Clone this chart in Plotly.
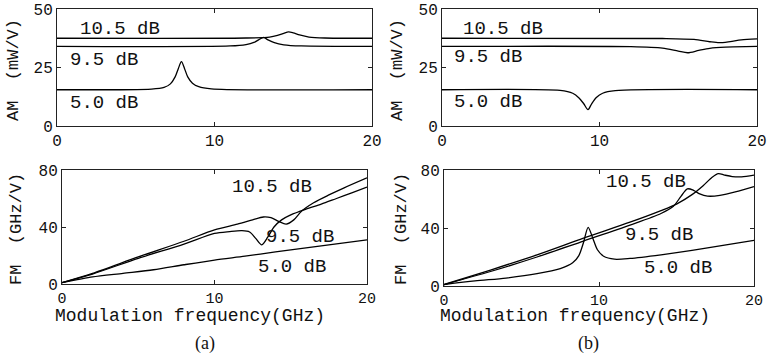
import plotly.graph_objects as go

# ---------------- data ----------------
# (a) AM response (mW/V)
a_am_105_x = [0, 12, 13.5, 14.0, 14.4, 14.7, 15.0, 15.4, 16.0, 17, 20]
a_am_105_y = [37.5, 37.6, 38.0, 38.7, 39.6, 40.2, 39.8, 38.9, 38.0, 37.6, 37.5]
a_am_95_x = [0, 11, 12.0, 12.5, 12.8, 13.1, 13.4, 13.8, 14.4, 15.5, 20]
a_am_95_y = [34.0, 34.2, 34.8, 35.7, 36.8, 37.9, 36.8, 35.6, 34.7, 34.2, 34.0]
a_am_50_x = [0, 6, 6.8, 7.2, 7.5, 7.7, 7.9, 8.1, 8.3, 8.6, 9.0, 9.8, 20]
a_am_50_y = [15.5, 15.8, 16.5, 18.0, 21.0, 24.5, 27.5, 24.5, 21.0, 18.3, 16.8, 15.9, 15.5]

# (b) AM response (mW/V)
b_am_105_x = [0, 14, 16, 17, 17.6, 18.3, 19, 20]
b_am_105_y = [37.5, 37.4, 37.0, 36.0, 35.6, 36.1, 36.8, 37.2]
b_am_95_x = [0, 12, 14, 15, 15.6, 16.3, 17, 18, 20]
b_am_95_y = [34.0, 33.9, 33.3, 32.0, 31.3, 32.3, 33.2, 33.7, 34.0]
b_am_50_x = [0, 7.5, 8.3, 8.7, 9.0, 9.27, 9.5, 9.8, 10.2, 11, 20]
b_am_50_y = [15.5, 15.2, 14.0, 12.0, 9.5, 7.0, 9.5, 12.2, 14.0, 15.1, 15.5]

# (a) FM response (GHz/V)
a_fm_105_x = [0, 2, 5, 8, 10, 11.5, 12.5, 13.2, 13.7, 14.2, 14.7, 15.2, 15.7, 16.5, 17.5, 18.5, 20]
a_fm_105_y = [1, 7.5, 19, 30, 38, 42, 45, 47, 46.5, 44, 42, 45, 51, 57, 62.5, 67.5, 74.5]
a_fm_95_x = [0, 2, 5, 8, 10, 11, 11.8, 12.3, 12.7, 13.1, 13.5, 13.9, 14.4, 15, 16, 17, 18, 19, 20]
a_fm_95_y = [1, 7, 18, 28, 35.5, 36.8, 37.4, 36.5, 32, 27.5, 33, 40, 45, 48.5, 52.5, 56, 60, 64, 68]
a_fm_50_x = [0, 1, 2, 4, 6, 8, 10, 12, 14, 16, 18, 20]
a_fm_50_y = [1, 3, 5, 7.5, 10, 13.5, 16.8, 19.5, 22.5, 25.3, 28.2, 31]

# (b) FM response (GHz/V)
b_fm_105_x = [0, 3, 6, 9, 12, 14, 15, 16, 16.7, 17.3, 17.7, 18.1, 18.6, 19.2, 20]
b_fm_105_y = [1, 11, 21.5, 33, 44, 52, 56.5, 63, 69, 75, 77.5, 76.5, 75.5, 75.3, 76.5]
b_fm_95_x = [0, 3, 6, 9, 12, 14, 14.8, 15.3, 15.7, 16.1, 16.5, 17, 17.8, 19, 20]
b_fm_95_y = [1, 10, 20, 31, 42, 50, 55, 62, 67, 66, 63.5, 62, 62.5, 65.5, 68.5]
b_fm_50_x = [0, 2, 4, 6, 7.5, 8.3, 8.7, 9.0, 9.3, 9.6, 9.9, 10.3, 11, 12, 14, 16, 18, 20]
b_fm_50_y = [1, 3.5, 5.5, 8.5, 12, 16, 21, 30, 40.5, 33, 25, 20.5, 18.5, 19, 21.5, 24.5, 28, 31.5]

x_ticks = [0, 10, 20]
am_ticks = [0, 25, 50]
fm_ticks = [0, 40, 80]
series_labels = ["10.5 dB", "9.5 dB", "5.0 dB"]
panel_labels = ["(a)", "(b)"]

# ---------------- figure ----------------
W, H = 769, 355
MONO = "Liberation Mono"
SERIF = "Liberation Serif"

fig = go.Figure()

panels = [
    ("x", "y", [(a_am_105_x, a_am_105_y), (a_am_95_x, a_am_95_y), (a_am_50_x, a_am_50_y)]),
    ("x2", "y2", [(b_am_105_x, b_am_105_y), (b_am_95_x, b_am_95_y), (b_am_50_x, b_am_50_y)]),
    ("x3", "y3", [(a_fm_105_x, a_fm_105_y), (a_fm_95_x, a_fm_95_y), (a_fm_50_x, a_fm_50_y)]),
    ("x4", "y4", [(b_fm_105_x, b_fm_105_y), (b_fm_95_x, b_fm_95_y), (b_fm_50_x, b_fm_50_y)]),
]
for xa, ya, series in panels:
    for sx, sy in series:
        fig.add_trace(go.Scatter(x=sx, y=sy, xaxis=xa, yaxis=ya, mode="lines",
                                 line=dict(color="black", width=1.3, shape="spline", smoothing=0.8),
                                 showlegend=False, hoverinfo="skip"))

def px_x(p):
    return p / W

def px_y(p):
    return 1 - p / H

boxes = {
    "1": (57, 372, 9, 126),
    "2": (442, 757, 9, 126),
    "3": (62, 367, 170, 284),
    "4": (444, 754, 170, 286),
}

axis_common = dict(showline=True, linecolor="#222", linewidth=1, mirror="ticks",
                   ticks="inside", ticklen=4, tickcolor="#222", showgrid=False, zeroline=False,
                   automargin=False)

layout = dict(width=W, height=H, margin=dict(l=0, r=0, t=0, b=0, autoexpand=False),
              paper_bgcolor="white", plot_bgcolor="white", showlegend=False)

for k, (x0, x1, y0, y1) in boxes.items():
    sfx = "" if k == "1" else k
    top = k in ("1", "2")
    layout["xaxis" + sfx] = dict(domain=[px_x(x0), px_x(x1)], range=[0, 20], tickvals=x_ticks,
                                 anchor="y" + sfx,
                                 tickfont=dict(family=MONO, size=16 if top else 15, color="#111"),
                                 **axis_common)
    yt = am_ticks if top else fm_ticks
    yr = [0, 50] if top else [0, 80]
    layout["yaxis" + sfx] = dict(domain=[px_y(y1), px_y(y0)], range=yr, tickvals=yt,
                                 anchor="x" + sfx,
                                 tickfont=dict(family=MONO, size=16, color="#111"),
                                 **axis_common)
fig.update_layout(**layout)

ann = []
label_pos = {
    ("x", "y"): [(4.0, 41.5), (3.0, 28.2), (3.0, 9.8)],
    ("x2", "y2"): [(3.9, 41.5), (2.9, 29.5), (2.9, 10.3)],
    ("x3", "y3"): [(13.8, 68), (15.6, 33), (15.1, 12)],
    ("x4", "y4"): [(13.0, 71.7), (13.9, 35), (15.1, 12.4)],
}
for (xa, ya), poss in label_pos.items():
    for txt, (lx, ly) in zip(series_labels, poss):
        ann.append(dict(x=lx, y=ly, xref=xa, yref=ya, text=txt, showarrow=False,
                        xanchor="center", yanchor="middle",
                        font=dict(family=MONO, size=19, color="#111")))

def paper_note(txt, cx, cy, font, angle=0):
    return dict(x=px_x(cx), y=px_y(cy), xref="paper", yref="paper", text=txt,
                showarrow=False, xanchor="center", yanchor="middle", textangle=angle,
                font=font)

for cx in (190, 575):
    ann.append(paper_note("Modulation frequency(GHz)", cx, 316,
                          dict(family=MONO, size=18, color="#111")))
for cx, cy in ((14, 70), (398, 70)):
    ann.append(paper_note("AM\u00a0\u00a0(mW/V)", cx, cy,
                          dict(family=MONO, size=17, color="#111"), -90))
for cx, cy in ((16, 229), (401, 229)):
    ann.append(paper_note("FM\u00a0\u00a0(GHz/V)", cx, cy,
                          dict(family=MONO, size=17, color="#111"), -90))
for txt, cx in zip(panel_labels, (205, 588)):
    ann.append(paper_note(txt, cx, 343, dict(family=SERIF, size=18, color="#111")))

fig.update_layout(annotations=ann)
fig.write_html("out.html")
